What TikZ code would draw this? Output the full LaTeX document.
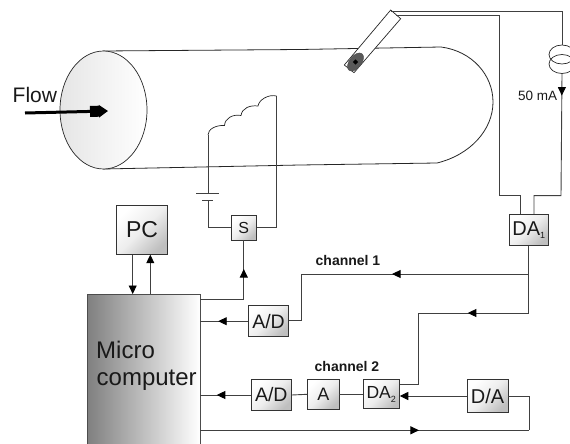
\documentclass[tikz,border=0pt]{standalone}
\usepackage{fontspec}
\setmainfont{Liberation Sans}
\usetikzlibrary{arrows.meta,decorations.markings,calc,shapes.geometric}
\tikzset{
  wire/.style={draw=black!75,line width=0.9pt},
  box/.style={draw=black!80,line width=0.8pt,inner sep=0pt,align=center,text=black!90,
    top color=white,bottom color=black!25,middle color=black!7,shading angle=45},
  midarrow/.style={postaction={decorate},decoration={markings,mark=at position #1 with {\arrow{Triangle[length=8.5pt,width=8pt,color=black]}}}},
  tip/.style={-{Triangle[length=8.5pt,width=8pt,color=black]}},
  lab/.style={inner sep=0pt,text=black!90},
  chan/.style={lab,font=\fontsize{14}{15}\selectfont\bfseries}
}
\newcommand{\boxat}[7]{\node[box,minimum width=#4pt,minimum height=#5pt,font=\fontsize{#6}{#6}\selectfont] (#1) at (#2,#3) {#7};}
\begin{document}
\begin{tikzpicture}[x=1pt,y=-1pt]
\useasboundingbox (0,0) rectangle (570,444);
% helper columns
\coordinate (xa) at (534,0);
\coordinate (xb) at (520.5,0);
\coordinate (xc) at (132.7,0);
\coordinate (xd) at (150.3,0);
\coordinate (ya) at (0,274);
\coordinate (yb) at (0,313);
\coordinate (yc) at (0,320.7);
\coordinate (yd) at (0,384.3);
% pipe
\draw[line width=0.8pt,draw=black!85] (103,51) -- (300,49.5) -- (441,47)
  .. controls (472,51) and (493,75) .. (493,102)
  .. controls (493,130) and (470,155) .. (437,163)
  -- (300,165) -- (103,169);
\node[draw=black!85,line width=0.7pt,ellipse,minimum width=87pt,minimum height=118pt,inner sep=0pt,
  left color=black!10,right color=white] (face) at (103.5,110) {};
% flow
\coordinate (flowstart) at (25,113);
\coordinate (flowtip) at (108,111);
\draw[line width=3pt,-{Rectangle[length=9pt,width=11pt]Triangle[length=9pt,width=12pt]}] (flowstart) -- (flowtip);
\node[lab,font=\fontsize{21}{21}\selectfont,anchor=base west] (flow) at (12.5,102.5) {Flow};
% probe
\draw[line width=0.7pt,fill=white,draw=black!85] (390.7,10) -- (400.7,18.7) -- (354,72.7) -- (344.3,65) -- cycle;
\node[draw=black!70,fill=black!65,ellipse,rotate=52,minimum width=21pt,minimum height=12pt,inner sep=0pt] (sensor) at (355.5,62) {};
\node[fill=black,diamond,aspect=1,minimum size=5.5pt,inner sep=0pt] (core) at (355.5,62) {};
% boxes
\boxat{da1}{528.7}{230}{38.7}{31.4}{20}{DA\raisebox{-3pt}{\fontsize{9}{9}\selectfont 1}}
\boxat{pc}{142}{229.8}{51.4}{49}{23}{PC}
\boxat{sw}{243.8}{227.8}{25.7}{24.3}{16}{S}
\boxat{ad1}{268.5}{321.2}{40.4}{31}{19.5}{A/D}
\boxat{ad2}{271.3}{395}{40}{31.4}{19.5}{A/D}
\boxat{amp}{323.3}{394.3}{31.3}{30}{18}{A}
\boxat{da2}{381.2}{394}{36.3}{29.4}{17.5}{DA\raisebox{-4pt}{\fontsize{9}{9}\selectfont 2}}
\boxat{dac}{487.5}{396}{41}{33.4}{20}{D/A}
% micro
\path[left color=black!50,right color=white] (87.3,294) rectangle (200,444);
\coordinate (mtl) at (87.3,294); \coordinate (mtr) at (200,294);
\coordinate (mbl) at (87.3,444); \coordinate (mbr) at (200,444);
\draw[line width=0.9pt,draw=black!70] (mbl) -- (mtl) -- (mtr) -- (mbr);
\node[lab,font=\fontsize{24}{24}\selectfont,anchor=base west] (micro1) at (96,358) {Micro};
\node[lab,font=\fontsize{24}{24}\selectfont,anchor=base west] (micro2) at (96.5,385) {computer};
% labels
\node[chan,anchor=base west] (ch1) at (315.5,265.5) {channel 1};
\node[chan,anchor=base west] (ch2) at (314.5,371) {channel 2};
\node[lab,font=\fontsize{13.5}{13.5}\selectfont,anchor=base west] (cur) at (518,100.5) {50 mA};
% current source
\coordinate (pt1) at (391,11.5);
\coordinate (pt2) at (396,15);
\node[draw=black!85,line width=0.7pt,ellipse,minimum width=26pt,minimum height=19pt,inner sep=0pt] (cs1) at (562,54.5) {};
\node[draw=black!85,line width=0.7pt,ellipse,minimum width=26pt,minimum height=19pt,inner sep=0pt] (cs2) at (562,64) {};
\draw[wire] (pt1) -- (562,11.5) -- (cs1.north);
\draw[wire,midarrow=0.13] (cs2.south) -- (561,195.6) -- (534,195.6) -- (da1.north -| xa);
\draw[wire] (pt2) -- (499,15) -- (499,195.6) -- (520.5,195.6) -- (da1.north -| xb);
% da1 down
\coordinate (j1) at (da1.south |- ya);
\coordinate (j2) at (da1.south |- yb);
\coordinate (c1) at (301,274);
\coordinate (c2) at (418,313);
\draw[wire] (da1.south) -- (j2);
\draw[wire,midarrow=0.6] (j1) -- (c1);
\draw[wire] (c1) -- (301,320.7) -- (ad1.east |- yc);
\draw[wire,midarrow=0.55] (j2) -- (c2);
\draw[wire] (c2) -- (418,384.3) -- (da2.east |- yd);
\draw[wire,midarrow=0.62] (ad1.west) -- (mtr |- ad1.west);
\draw[wire,midarrow=0.67] (ad2.west) -- (mtr |- ad2.west);
\draw[wire] (ad2.east) -- (amp.west);
\draw[wire] (amp.east) -- (da2.west |- amp.east);
\draw[wire,tip] (dac.west) -- (da2.east |- dac.west);
\coordinate (f1) at (529.3,396);
\coordinate (f2) at (529.3,430.3);
\draw[wire] (dac.east) -- (f1) -- (f2);
\draw[wire,midarrow=0.665] (mtr |- f2) -- (f2);
% PC
\draw[wire,tip] (pc.south -| xc) -- (mtl -| xc);
\draw[wire,tip] (mtl -| xd) -- (pc.south -| xd);
% switch
\coordinate (sw0) at (200,299);
\draw[wire,midarrow=0.72] (sw0) -- (sw.south |- sw0) -- (sw.south);
% coil circuit
\coordinate (cl) at (208,135);
\coordinate (cr) at (276.5,96);
\draw[wire] (sw.west) -- (cl |- sw.west) -- (208,200.7);
\draw[wire] (208,193) -- (cl);
\draw[wire] (sw.east) -- (cr |- sw.east) -- (cr);
\draw[wire] (196,193) -- (219,193);
\draw[wire] (202,200.7) -- (213,200.7);
\draw[line width=0.7pt,draw=black!85] (cl) .. controls (208,129) and (216,125) .. (224.5,125.5)
  .. controls (225,118) and (233,114) .. (241,115.5)
  .. controls (242,108) and (250,105) .. (258,106)
  .. controls (259,100) and (268,94) .. (cr);
\end{tikzpicture}
\end{document}
